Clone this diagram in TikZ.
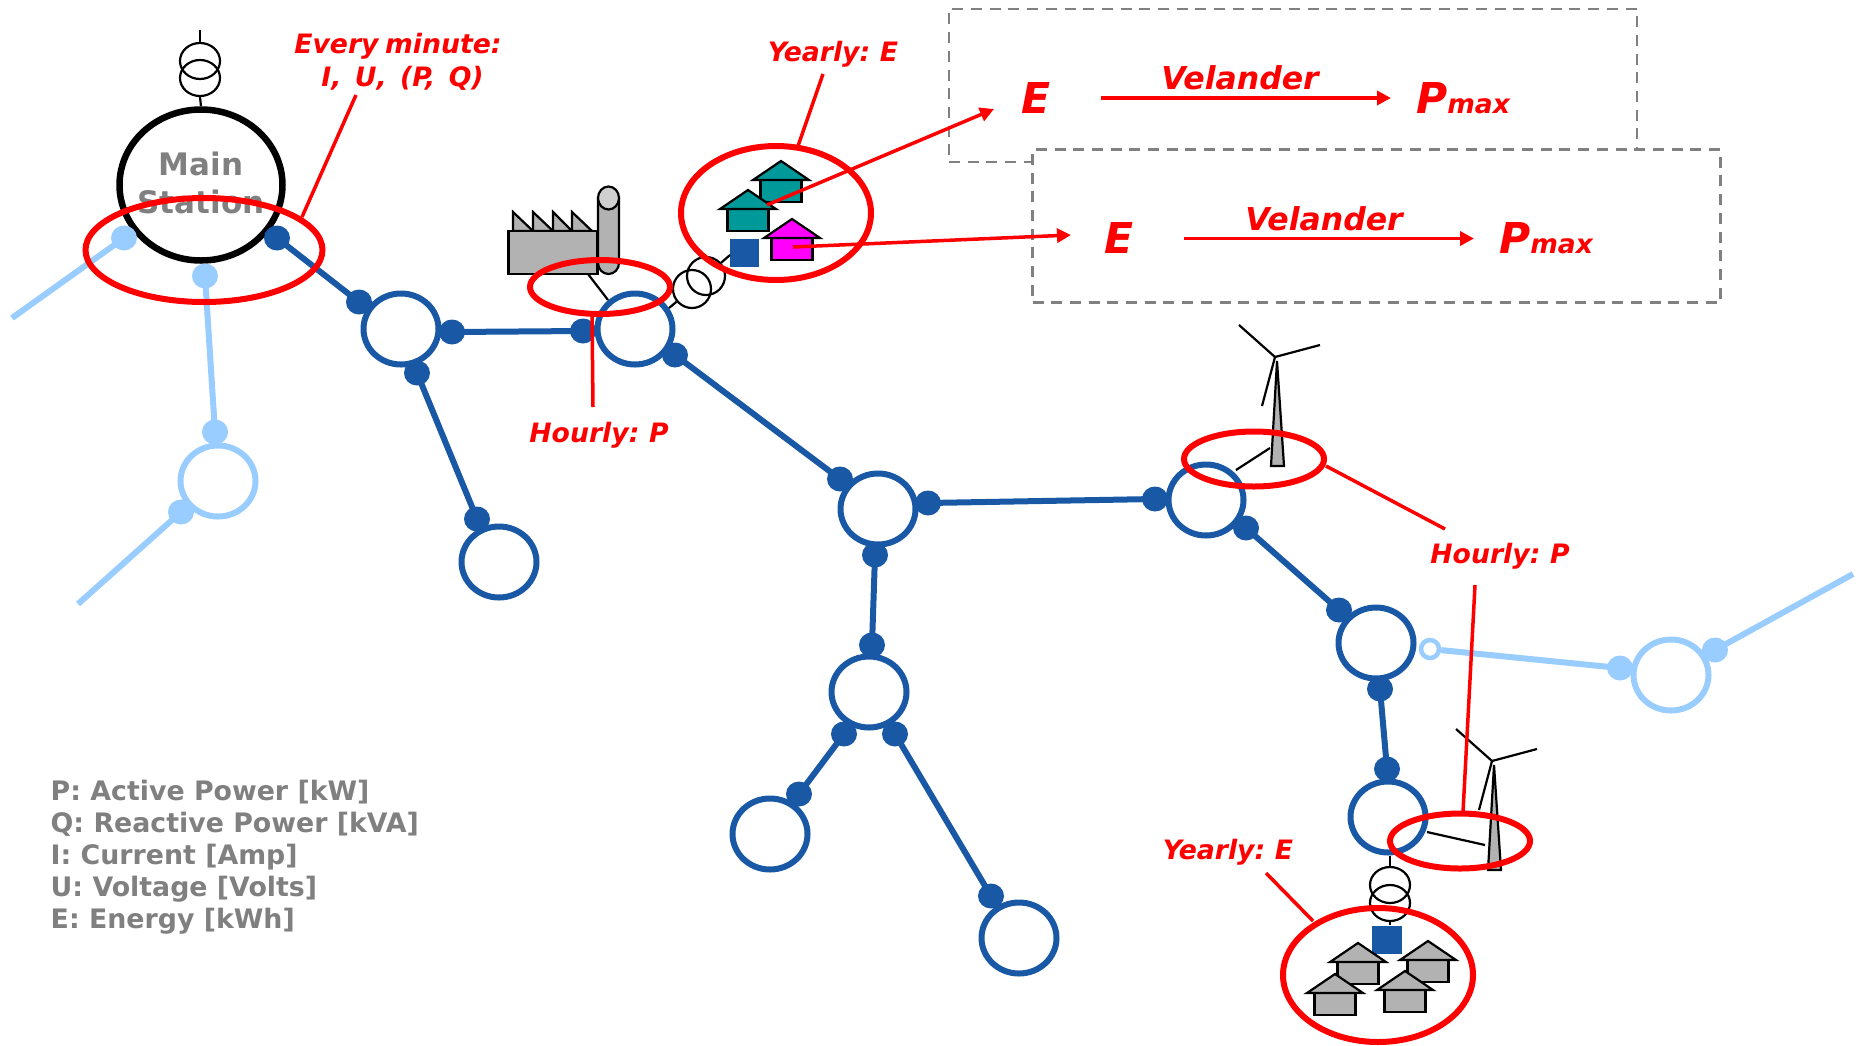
\documentclass[tikz,border=0pt]{standalone}
\usepackage{fontspec}
\setmainfont{DejaVu Sans}
\newfontfamily\redfam[WordSpace=0.7]{DejaVu Sans}
\usetikzlibrary{shapes.geometric,arrows.meta}
\definecolor{gridblue}{HTML}{1958A5}
\definecolor{lightblue}{HTML}{99CCFF}
\definecolor{notered}{HTML}{FF0000}
\definecolor{labelgray}{HTML}{808080}
\definecolor{bodygray}{HTML}{B2B2B2}
\definecolor{topgray}{HTML}{D0D0D0}
\definecolor{teal2}{HTML}{009999}
\definecolor{mag2}{HTML}{FF00FF}
\newcommand\drawhouse[3]{%
  \draw[housest,fill=#3] (#1-20.5,#2) rectangle (#1+20.5,#2+22);
  \draw[housest,fill=#3] (#1-28,#2) -- (#1,#2-19) -- (#1+28,#2) -- cycle;}
\newcommand\drawturbine[2]{%
  \draw[blackln,fill=bodygray] (#1+2,#2+4) -- (#1+9,#2+109) -- (#1-4,#2+109) -- cycle;
  \draw[blackln] (#1,#2) -- (#1-36,#2-32);
  \draw[blackln] (#1,#2) -- (#1+45,#2-12);
  \draw[blackln] (#1,#2) -- (#1-13,#2+49);}
\tikzset{
  x=1pt,y=-1pt,
  ring/.style={shape=ellipse,draw=gridblue,line width=6pt,minimum width=75pt,minimum height=71pt,inner sep=0pt},
  lring/.style={ring,draw=lightblue},
  dot/.style={shape=ellipse,fill=gridblue,minimum width=26pt,minimum height=25pt,inner sep=0pt},
  ldot/.style={dot,fill=lightblue},
  gridln/.style={draw=gridblue,line width=6pt},
  lightln/.style={draw=lightblue,line width=6pt},
  blackln/.style={draw=black,line width=2.2pt},
  housest/.style={draw=black,line width=2.2pt,line join=miter},
  xfmr/.style={shape=ellipse,draw=black,line width=2.2pt,minimum width=39pt,minimum height=35pt,inner sep=0pt},
  sq/.style={fill=gridblue,draw=none,minimum width=29pt,minimum height=28pt,inner sep=0pt,shape=rectangle},
  mark ring/.style={shape=ellipse,draw=notered,line width=6pt,inner sep=0pt},
  redln/.style={draw=notered,line width=3.5pt},
  redarr/.style={draw=notered,line width=3.5pt,-{Triangle[length=14pt,width=14pt]}},
  dashbox/.style={draw=labelgray,line width=2.5pt,dash pattern=on 11pt off 7.7pt,fill=white},
  redtxt/.style={text=notered,font=\redfam\fontsize{26.7}{33}\selectfont\bfseries\itshape,align=center,inner sep=0pt},
  bigtxt/.style={text=notered,font=\fontsize{42.5}{48}\selectfont\bfseries\itshape,inner sep=0pt},
  veltxt/.style={text=notered,font=\fontsize{31.5}{36}\selectfont\bfseries\itshape,inner sep=0pt},
  legendtxt/.style={text=labelgray,font=\fontsize{26.8}{32}\selectfont\bfseries,align=left,inner sep=0pt},
  stationtxt/.style={text=labelgray,font=\fontsize{31}{38}\selectfont\bfseries,align=center,inner sep=0pt},
}
\newcommand\maxpart{{\fontsize{26.5}{30}\selectfont max}}
\begin{document}
\begin{tikzpicture}
\useasboundingbox (0,0) rectangle (1860,1045);

% dashed boxes
\node[dashbox,minimum width=688pt,minimum height=153pt,inner sep=0pt] (boxA) at (1293,85.5) {};
\node[dashbox,minimum width=688pt,minimum height=153pt,inner sep=0pt] (boxB) at (1376.5,226) {};

% free ends
\coordinate (freeA) at (12,318);
\coordinate (freeB) at (78,604);
\coordinate (freeC) at (1853,574);

% main station
\node[stationtxt] (mainlbl) at (201,183) {Main\\Station};
\node[shape=ellipse,draw=black,line width=6.5pt,minimum width=163pt,minimum height=151pt,inner sep=0pt] (main) at (201,185) {};
\node[xfmr,minimum width=40pt,minimum height=36pt] (t1a) at (200,61) {};
\node[xfmr,minimum width=40pt,minimum height=36pt] (t1b) at (200,78) {};
\coordinate (t1top) at (200,30);
\draw[blackln] (t1top) -- (t1a.north);
\draw[blackln] (t1b.south) -- (main.north);

% rings
\node[ring] (n1) at (401,329) {};
\node[ring] (n2) at (635,329) {};
\node[ring] (n3) at (499,562) {};
\node[ring] (n4) at (878,509) {};
\node[ring] (n5) at (1206,500) {};
\node[ring] (n6) at (869,692) {};
\node[ring] (n7) at (770,834) {};
\node[ring] (n8) at (1019,938) {};
\node[ring] (n9) at (1376,643) {};
\node[ring] (n10) at (1388,817) {};
\node[lring] (l1) at (218,481) {};
\node[lring] (l2) at (1671,675) {};

% dots
\node[dot] (d0) at (277,238) {};
\node[dot] (d1) at (359,302) {};
\node[dot] (d2) at (452,332) {};
\node[dot] (d3) at (417,373) {};
\node[dot] (d4) at (477,519) {};
\node[dot] (d5) at (583,331) {};
\node[dot] (d6) at (675,355) {};
\node[dot] (d7) at (840,479) {};
\node[dot] (d8) at (928,503) {};
\node[dot] (d9) at (1155,499) {};
\node[dot] (d10) at (875,555) {};
\node[dot] (d11) at (872,645) {};
\node[dot] (d12) at (844,734) {};
\node[dot] (d13) at (895,734) {};
\node[dot] (d14) at (799,794) {};
\node[dot] (d15) at (991,896) {};
\node[dot] (d16) at (1246,528) {};
\node[dot] (d17) at (1339,610) {};
\node[dot] (d18) at (1380,689) {};
\node[dot] (d19) at (1387,769) {};
\node[ldot] (e1) at (124,238) {};
\node[ldot] (e2) at (205,276) {};
\node[ldot] (e3) at (215,432) {};
\node[ldot] (e4) at (181,512) {};
\node[ldot] (e5) at (1620,668) {};
\node[ldot] (e6) at (1715,650) {};

% grid connectors
\draw[gridln] (d0.center) -- (d1.center);
\draw[gridln] (d2.center) -- (d5.center);
\draw[gridln] (d3.center) -- (d4.center);
\draw[gridln] (d6.center) -- (d7.center);
\draw[gridln] (d8.center) -- (d9.center);
\draw[gridln] (d10.center) -- (d11.center);
\draw[gridln] (d12.center) -- (d14.center);
\draw[gridln] (d13.center) -- (d15.center);
\draw[gridln] (d16.center) -- (d17.center);
\draw[gridln] (d18.center) -- (d19.center);
\draw[lightln] (freeA) -- (e1.center);
\draw[lightln] (e2.center) -- (e3.center);
\draw[lightln] (freeB) -- (e4.center);
\draw[lightln] (e6.center) -- (freeC);
\node[shape=circle,draw=lightblue,fill=white,line width=4.5pt,minimum size=18pt,inner sep=0pt] (e7) at (1430,649) {};
\draw[lightln] (e7) -- (e5.center);

% factory
\draw[housest,fill=bodygray] (513,231) -- (513,212) -- (533,231) -- cycle;
\draw[housest,fill=bodygray] (533,231) -- (533,212) -- (553,231) -- cycle;
\draw[housest,fill=bodygray] (553,231) -- (553,212) -- (572,231) -- cycle;
\draw[housest,fill=bodygray] (572,231) -- (572,212) -- (592,231) -- cycle;
\node[draw=black,line width=2.2pt,fill=bodygray,shape=rectangle,minimum width=89pt,minimum height=43pt,inner sep=0pt] (factory) at (553,252.5) {};
\draw[housest,fill=bodygray] (598,198) -- (598,263) arc[start angle=180,end angle=360,x radius=10.5,y radius=-11] -- (619,198) -- cycle;
\draw[housest,fill=topgray] (608.5,198) ellipse[x radius=10.5,y radius=11.5];
\coordinate (factoryfoot) at (588,274);
\coordinate (n2top) at (608,300);
\draw[blackln] (factoryfoot) -- (n2top);

% second transformer and houses
\node[xfmr,minimum width=38pt,minimum height=38pt] (t2a) at (706,276) {};
\node[xfmr,minimum width=38pt,minimum height=38pt] (t2b) at (692,289) {};
\node[sq] (sq1) at (744.5,253) {};
\coordinate (t2lo) at (669,308);
\coordinate (t2hi) at (730,255);
\draw[blackln] (t2lo) -- (t2b);
\draw[blackln] (t2a) -- (t2hi);
\drawhouse{781}{180}{teal2}
\drawhouse{748}{209}{teal2}
\drawhouse{792}{238}{mag2}

% turbines
\drawturbine{1275}{357}
\drawturbine{1492}{761}
\coordinate (w1a) at (1236,470);
\coordinate (w1b) at (1270,448);
\coordinate (w2a) at (1427,832);
\coordinate (w2b) at (1485,845);
\draw[blackln] (w1a) -- (w1b);
\draw[blackln] (w2a) -- (w2b);

% third transformer and houses
\node[xfmr,minimum width=40pt,minimum height=36pt] (t3a) at (1390,885) {};
\node[xfmr,minimum width=40pt,minimum height=36pt] (t3b) at (1390,903) {};
\node[sq,minimum width=30pt] (sq2) at (1387,939.5) {};
\draw[blackln] (n10.south -| t3a.north) -- (t3a.north);
\draw[blackln] (t3b.south) -- (t3b.south |- sq2.north);
\drawhouse{1358}{962}{bodygray}
\drawhouse{1428}{960}{bodygray}
\drawhouse{1335}{993}{bodygray}
\drawhouse{1405}{990}{bodygray}

% red marks
\node[mark ring,minimum width=237pt,minimum height=104pt] (m1) at (204,250) {};
\node[mark ring,minimum width=140pt,minimum height=54pt] (m2) at (600,287) {};
\node[mark ring,minimum width=190pt,minimum height=134pt] (m3) at (776,213) {};
\node[mark ring,minimum width=140pt,minimum height=55pt] (m4) at (1254,459) {};
\node[mark ring,minimum width=140pt,minimum height=55pt] (m5) at (1460,841) {};
\node[mark ring,minimum width=190pt,minimum height=134pt] (m6) at (1378,975) {};

% red labels
\node[redtxt] (everylbl) at (398,61.5) {Every minute:\\\hspace{9pt}I,\hspace{7pt} U,\hspace{7pt} (P,\hspace{7pt} Q)};
\node[redtxt] (yearlyA) at (833,54) {Yearly: E};
\node[redtxt] (hourlyA) at (599,435) {Hourly: P};
\node[redtxt] (hourlyB) at (1500,556) {Hourly: P};
\node[redtxt] (yearlyB) at (1228,852) {Yearly: E};

\coordinate (c1a) at (356,95);  \coordinate (c1b) at (302,217);
\coordinate (c2a) at (823,74);  \coordinate (c2b) at (798,146);
\coordinate (c3a) at (593,407); \coordinate (c3b) at (592,314);
\coordinate (c4a) at (1445,529);\coordinate (c4b) at (1326,466);
\coordinate (c5a) at (1475,585);\coordinate (c5b) at (1463,812);
\coordinate (c6a) at (1266,873);\coordinate (c6b) at (1313,921);
\draw[redln] (c1a) -- (c1b);
\draw[redln] (c2a) -- (c2b);
\draw[redln] (c3a) -- (c3b);
\draw[redln] (c4a) -- (c4b);
\draw[redln] (c5a) -- (c5b);
\draw[redln] (c6a) -- (c6b);

% formula rows
\node[bigtxt,anchor=base] (eA) at (1036.5,113) {E};
\node[bigtxt,anchor=base west] (pA) at (1416,113) {P\maxpart};
\node[veltxt,anchor=base] (velA) at (1240,89) {Velander};
\node[bigtxt,anchor=base] (eB) at (1119.5,253) {E};
\node[bigtxt,anchor=base west] (pB) at (1499,253) {P\maxpart};
\node[veltxt,anchor=base] (velB) at (1324,230) {Velander};
\coordinate (aAs) at (1101,98);  \coordinate (aAe) at (1391,98);
\coordinate (aBs) at (1184,238.5); \coordinate (aBe) at (1474,238.5);
\draw[redarr] (aAs) -- (aAe);
\draw[redarr] (aBs) -- (aBe);
\coordinate (hA) at (767,205); \coordinate (tipA) at (994,109);
\coordinate (hB) at (793,247); \coordinate (tipB) at (1071,235);
\draw[redarr] (hA) -- (tipA);
\draw[redarr] (hB) -- (tipB);

% legend
\node[legendtxt,anchor=west] (legend) at (50.5,857.5) {P: Active Power [kW]\\Q: Reactive Power [kVA]\\I: Current [Amp]\\U: Voltage [Volts]\\E: Energy [kWh]};
\end{tikzpicture}
\end{document}
